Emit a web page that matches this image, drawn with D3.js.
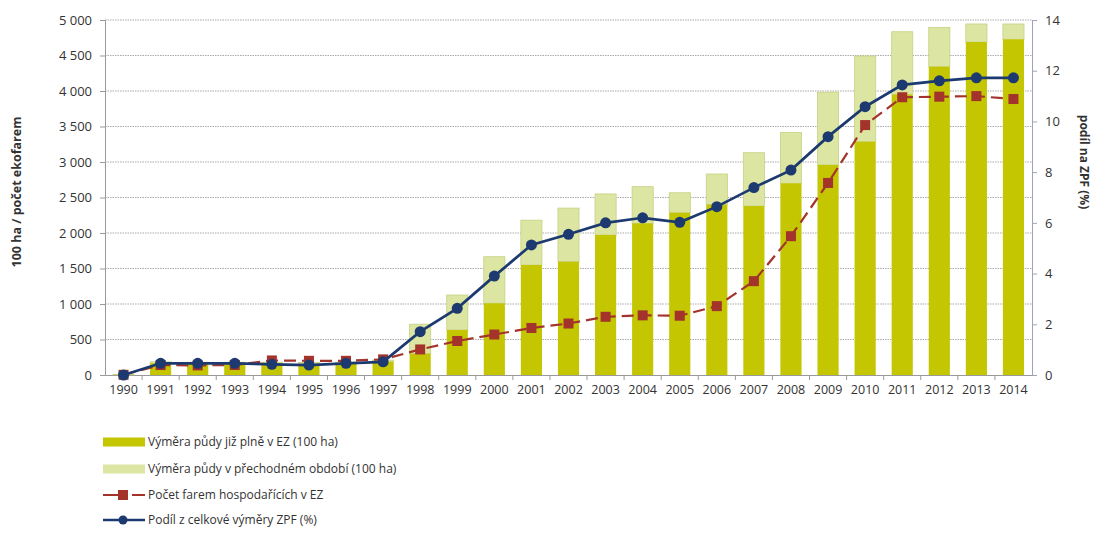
<!DOCTYPE html>
<html>
<head>
<meta charset="utf-8">
<script src="https://cdn.jsdelivr.net/npm/d3@7"></script>
<style>
  body { margin: 0; background: #fff; }
  svg text { font-family: "Open Sans", "Noto Sans", sans-serif; fill: #333; }
</style>
</head>
<body>
<svg id="chart" width="1094" height="542"></svg>
<script>
// data
const years = ["1990","1991","1992","1993","1994","1995","1996","1997","1998","1999","2000","2001","2002",
  "2003","2004","2005","2006","2007","2008","2009","2010","2011","2012","2013","2014"];
// area fully in organic farming (100 ha)
const areaFull = [4, 165, 160, 160, 160, 155, 160, 185, 300, 634, 1010, 1549, 1596,
  1972, 2136, 2286, 2400, 2380, 2700, 2958, 3286, 3950, 4342, 4690, 4728];
// total area incl. transition period (100 ha)
const areaTotal = [5, 185, 180, 180, 180, 175, 180, 210, 716, 1127, 1666, 2181, 2351,
  2550, 2652, 2567, 2831, 3131, 3416, 3984, 4493, 4835, 4896, 4944, 4944];
// number of organic farms
const farms = [3, 140, 135, 141, 205, 200, 200, 220, 360, 479, 570, 662, 725,
  820, 840, 835, 970, 1322, 1955, 2705, 3520, 3912, 3920, 3928, 3887];
// share of total agricultural land (%)
const share = [0, 0.46, 0.46, 0.46, 0.42, 0.39, 0.46, 0.52, 1.71, 2.63, 3.9, 5.13, 5.55,
  6.0, 6.2, 6.02, 6.64, 7.39, 8.08, 9.4, 10.58, 11.44, 11.6, 11.72, 11.72];
const leftTicks = [0, 500, 1000, 1500, 2000, 2500, 3000, 3500, 4000, 4500, 5000];
const rightTicks = [0, 2, 4, 6, 8, 10, 12, 14];

const legendLabels = [
  "Výměra půdy již plně v EZ (100 ha)",
  "Výměra půdy v přechodném období (100 ha)",
  "Počet farem hospodařících v EZ",
  "Podíl z celkové výměry ZPF (%)"
];

const colFull = "#c3c600";
const colTrans = "#dde5a2";
const colRed = "#a3332b";
const colBlue = "#1d3a70";

const svg = d3.select("#chart");
const plotLeft = 105, plotRight = 1032, plotTop = 20, plotBottom = 375;

const x = d3.scaleBand().domain(years).range([plotLeft, plotRight])
  .paddingInner(0.43).paddingOuter(0.215);
const yL = d3.scaleLinear().domain([0, 5000]).range([plotBottom, plotTop]);
const yR = d3.scaleLinear().domain([0, 14]).range([plotBottom, plotTop]);
const cx = d => x(d) + x.bandwidth() / 2;
const fmt = v => d3.format(",")(v).replace(",", " ");

// gridlines
svg.append("g").selectAll("line")
  .data(leftTicks.filter(d => d > 0))
  .enter().append("line")
  .attr("x1", plotLeft).attr("x2", plotRight)
  .attr("y1", d => yL(d)).attr("y2", d => yL(d))
  .attr("stroke", "#aaa").attr("stroke-width", 1.2)
  .attr("stroke-dasharray", "1.5,1");

// left axis
const axL = svg.append("g").attr("transform", `translate(${plotLeft},0)`)
  .call(d3.axisLeft(yL).tickValues(leftTicks).tickFormat(fmt).tickSize(5).tickPadding(8));
axL.select(".domain").attr("stroke", "#999");
axL.selectAll(".tick line").attr("stroke", "#999");
axL.selectAll("text").style("font-size", "13px").attr("fill", "#333");

// right axis
const axR = svg.append("g").attr("transform", `translate(${plotRight},0)`)
  .call(d3.axisRight(yR).tickValues(rightTicks).tickSize(5).tickPadding(8));
axR.select(".domain").attr("stroke", "#9ea3bd");
axR.selectAll(".tick line").attr("stroke", "#9ea3bd");
axR.selectAll("text").style("font-size", "13px").attr("fill", "#333");

// x axis
const axX = svg.append("g").attr("transform", `translate(0,${plotBottom})`)
  .call(d3.axisBottom(x).tickSize(0).tickPadding(10));
axX.select(".domain").attr("stroke", "#999");
axX.selectAll("text").style("font-size", "12.5px").attr("fill", "#333");
// tick marks between categories
svg.append("g").selectAll("line")
  .data(years.slice(1))
  .enter().append("line")
  .attr("x1", d => x(d) - x.step() * x.paddingInner() / 2)
  .attr("x2", d => x(d) - x.step() * x.paddingInner() / 2)
  .attr("y1", plotBottom).attr("y2", plotBottom + 5)
  .attr("stroke", "#999");

// bars: transition part (on top) then full part
svg.append("g").selectAll("rect")
  .data(years)
  .enter().append("rect")
  .attr("x", d => x(d))
  .attr("width", x.bandwidth())
  .attr("y", (d, i) => yL(areaTotal[i]))
  .attr("height", (d, i) => Math.max(0, yL(areaFull[i]) - yL(areaTotal[i])))
  .attr("fill", colTrans)
  .attr("stroke", "#c5d285").attr("stroke-width", 0.8);

svg.append("g").selectAll("rect")
  .data(years)
  .enter().append("rect")
  .attr("x", d => x(d))
  .attr("width", x.bandwidth())
  .attr("y", (d, i) => yL(areaFull[i]))
  .attr("height", (d, i) => plotBottom - yL(areaFull[i]))
  .attr("fill", colFull);

// farms line (dashed, squares)
const lineFarms = d3.line().x((d, i) => cx(years[i])).y(d => yL(d));
svg.append("path").datum(farms)
  .attr("d", lineFarms)
  .attr("fill", "none").attr("stroke", colRed)
  .attr("stroke-width", 2.2).attr("stroke-dasharray", "12,6");
svg.append("g").selectAll("rect")
  .data(farms)
  .enter().append("rect")
  .attr("x", (d, i) => cx(years[i]) - 5)
  .attr("y", d => yL(d) - 5)
  .attr("width", 10).attr("height", 10)
  .attr("fill", colRed);

// share line (solid, circles)
const lineShare = d3.line().x((d, i) => cx(years[i])).y(d => yR(d));
svg.append("path").datum(share)
  .attr("d", lineShare)
  .attr("fill", "none").attr("stroke", colBlue).attr("stroke-width", 2.7);
svg.append("g").selectAll("circle")
  .data(share)
  .enter().append("circle")
  .attr("cx", (d, i) => cx(years[i]))
  .attr("cy", d => yR(d))
  .attr("r", 5.5)
  .attr("fill", colBlue);

// axis titles
svg.append("text")
  .attr("transform", "translate(21,192) rotate(-90)")
  .attr("text-anchor", "middle")
  .style("font-size", "12.5px").style("font-weight", "bold")
  .text("100 ha / počet ekofarem");
svg.append("text")
  .attr("transform", "translate(1080,162) rotate(90)")
  .attr("text-anchor", "middle")
  .style("font-size", "12px").style("font-weight", "bold")
  .text("podíl na ZPF (%)");

// legend
const legY = [442, 469, 495, 520];
const leg = svg.append("g");
leg.append("rect").attr("x", 103).attr("y", legY[0] - 4.5).attr("width", 42).attr("height", 9).attr("fill", colFull);
leg.append("rect").attr("x", 103).attr("y", legY[1] - 4.5).attr("width", 42).attr("height", 9).attr("fill", colTrans);
leg.append("line").attr("x1", 103).attr("x2", 145).attr("y1", legY[2]).attr("y2", legY[2])
  .attr("stroke", colRed).attr("stroke-width", 2.2).attr("stroke-dasharray", "15,14,14");
leg.append("rect").attr("x", 118).attr("y", legY[2] - 5).attr("width", 10).attr("height", 10).attr("fill", colRed);
leg.append("line").attr("x1", 103).attr("x2", 145).attr("y1", legY[3]).attr("y2", legY[3])
  .attr("stroke", colBlue).attr("stroke-width", 2.5);
leg.append("circle").attr("cx", 123).attr("cy", legY[3]).attr("r", 4.5).attr("fill", colBlue);
leg.selectAll("text")
  .data(legendLabels)
  .enter().append("text")
  .attr("x", 148).attr("y", (d, i) => legY[i])
  .attr("dy", "0.35em")
  .style("font-size", "12px")
  .text(d => d);
</script>
</body>
</html>
